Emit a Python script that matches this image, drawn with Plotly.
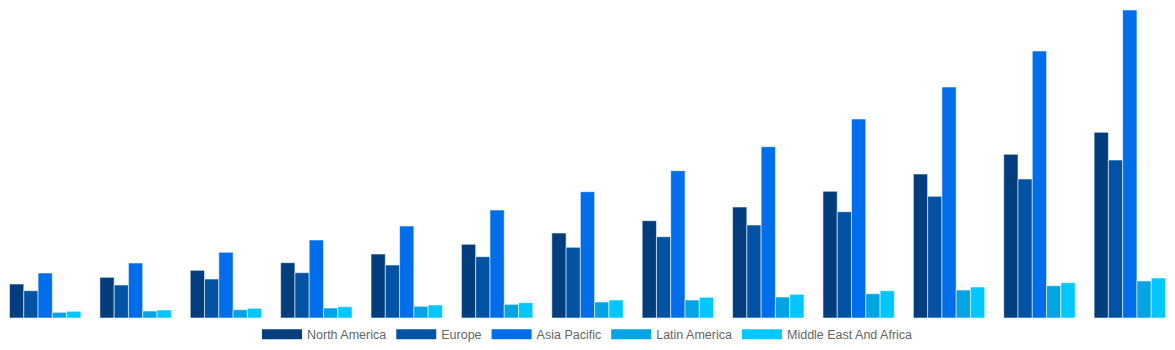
import plotly.graph_objects as go

years = [str(y) for y in range(2018, 2031)]
north_america = [34.0, 40.7, 47.7, 55.3, 64.0, 73.7, 85.0, 97.3, 111.0, 126.7, 144.0, 163.7, 185.7]
europe = [27.3, 33.0, 39.0, 45.3, 53.0, 61.3, 70.7, 81.3, 93.0, 106.3, 121.7, 139.0, 158.0]
asia_pacific = [45.0, 55.0, 65.7, 78.0, 92.0, 108.0, 126.3, 147.3, 171.3, 199.0, 231.0, 267.0, 308.0]
latin_america = [5.7, 7.0, 8.3, 10.0, 11.7, 13.7, 16.0, 18.0, 21.0, 24.3, 28.0, 32.3, 37.0]
middle_east_africa = [6.7, 8.0, 9.7, 11.3, 13.0, 15.3, 18.0, 20.7, 23.7, 27.3, 31.0, 35.3, 40.0]

series = [
    ("North America", north_america, "#023E7D"),
    ("Europe", europe, "#0353A4"),
    ("Asia Pacific", asia_pacific, "#006DEB"),
    ("Latin America", latin_america, "#03A4E3"),
    ("Middle East And Africa", middle_east_africa, "#00C8FF"),
]

fig = go.Figure()
for name, vals, col in series:
    fig.add_trace(go.Bar(
        x=years, y=vals, name=name, showlegend=False,
        marker=dict(color=col, line=dict(color="rgba(255,255,255,0.55)", width=1)),
    ))
for name, vals, col in series:
    fig.add_trace(go.Scatter(
        x=[None], y=[None], mode="lines", name=name,
        line=dict(color=col, width=13), showlegend=True,
    ))

fig.update_layout(
    width=1175, height=350,
    margin=dict(l=0, r=0, t=10, b=32),
    paper_bgcolor="white", plot_bgcolor="white",
    barmode="group", bargap=0.21, bargroupgap=0,
    xaxis=dict(visible=False, type="category"),
    yaxis=dict(visible=False, range=[0, 308]),
    legend=dict(
        orientation="h", x=0.5, xanchor="center", y=-0.005, yanchor="top",
        font=dict(family="Liberation Sans, Arial", size=12.5, color="#666666"),
        itemwidth=40, tracegroupgap=0,
    ),
)

fig.write_html("out.html")
